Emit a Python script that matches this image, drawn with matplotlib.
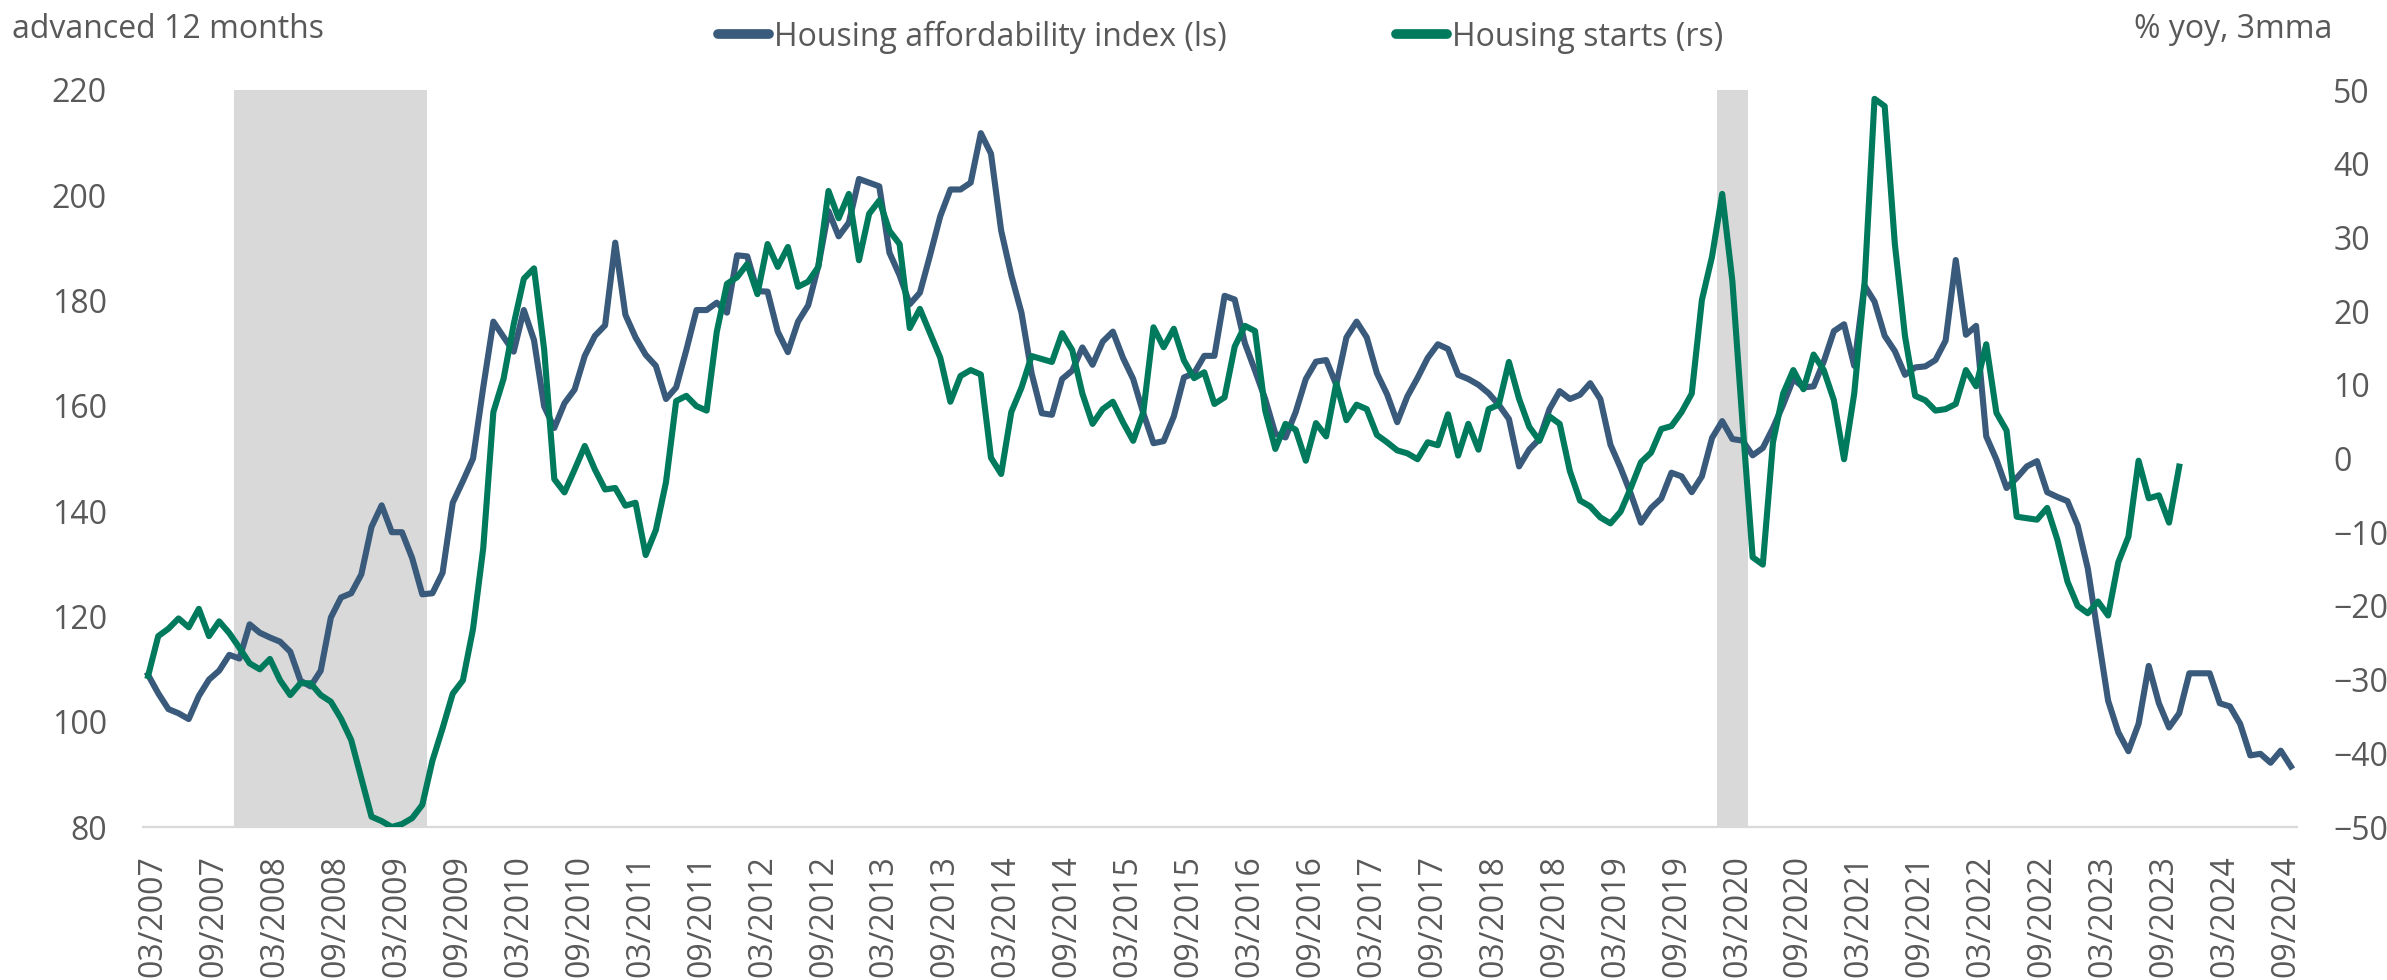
import matplotlib
matplotlib.use("Agg")
import matplotlib.pyplot as plt
from matplotlib.lines import Line2D

# ---------------- data (monthly, first point = 03/2007) ----------------
affordability = [
    108.9, 105.4, 102.4, 101.6, 100.5, 104.9, 108.0, 109.7, 112.7, 112.0,
    118.5, 116.9, 116.0, 115.2, 113.3, 107.8, 106.7, 109.7, 119.8, 123.6,
    124.4, 128.0, 137.0, 141.1, 136.0, 136.0, 131.1, 124.2, 124.4, 128.3,
    141.6, 145.7, 150.0, 163.5, 176.0, 173.1, 170.3, 178.2, 172.5, 159.9,
    155.8, 160.5, 163.1, 169.5, 173.3, 175.3, 191.0, 177.3, 173.0, 169.7,
    167.6, 161.3, 163.5, 170.6, 178.2, 178.2, 179.6, 177.7, 188.6, 188.4,
    181.8, 181.7, 174.1, 170.2, 176.0, 179.1, 186.6, 197.0, 192.2, 194.8,
    203.1, 202.4, 201.7, 189.1, 184.8, 179.3, 181.5, 188.6, 196.0, 201.1,
    201.1, 202.4, 211.8, 207.9, 193.3, 184.8, 177.7, 166.2, 158.6, 158.3,
    165.1, 166.7, 171.1, 167.8, 172.2, 174.1, 169.1, 165.1, 158.6, 152.9,
    153.3, 158.0, 165.4, 166.2, 169.5, 169.5, 180.9, 180.2, 171.9, 166.7,
    161.3, 154.7, 154.0, 158.8, 165.1, 168.4, 168.7, 164.0, 173.0, 176.0,
    173.0, 166.2, 162.2, 156.9, 161.8, 165.3, 169.1, 171.7, 170.8, 165.9,
    165.1, 164.0, 162.4, 160.2, 157.5, 148.5, 151.7, 153.7, 159.4, 162.8,
    161.3, 162.1, 164.3, 161.3, 152.6, 148.2, 143.3, 137.8, 140.6, 142.4,
    147.3, 146.6, 143.6, 146.6, 153.9, 157.1, 153.7, 153.4, 150.6, 152.0,
    155.8, 160.2, 165.1, 163.5, 163.7, 168.4, 174.2, 175.5, 167.6, 182.9,
    179.8, 173.3, 170.4, 165.9, 167.3, 167.5, 168.7, 172.4, 187.7, 173.5,
    175.2, 154.2, 149.8, 144.4, 146.3, 148.5, 149.5, 143.6, 142.7, 141.9,
    137.3, 129.1, 116.6, 104.0, 98.0, 94.4, 99.6, 110.6, 103.5, 98.9,
    101.6, 109.2, 109.2, 109.2, 103.5, 102.9, 99.6, 93.6, 93.9, 92.2,
    94.5, 91.5,
]

housing_starts = [
    -29.5, -24.1, -23.1, -21.7, -22.9, -20.4, -24.1, -22.1, -23.7, -25.7,
    -27.8, -28.6, -27.2, -30.1, -32.1, -30.5, -30.5, -32.1, -33.0, -35.3,
    -38.2, -43.4, -48.6, -49.2, -50.0, -49.6, -48.8, -47.0, -41.0, -36.6,
    -31.9, -30.1, -23.1, -12.2, 6.3, 10.8, 18.2, 24.4, 25.8, 14.8,
    -2.8, -4.6, -1.5, 1.7, -1.5, -4.2, -4.0, -6.4, -6.0, -13.1,
    -9.7, -3.2, 7.8, 8.5, 7.1, 6.5, 17.2, 23.7, 24.6, 26.4,
    22.3, 29.1, 26.0, 28.7, 23.3, 24.0, 26.0, 36.3, 32.6, 35.9,
    26.9, 33.2, 35.0, 30.9, 29.1, 17.7, 20.3, 17.0, 13.7, 7.7,
    11.2, 12.0, 11.4, 0.1, -2.1, 6.3, 9.6, 13.9, 13.5, 13.1,
    17.0, 14.7, 8.8, 4.7, 6.7, 7.7, 4.9, 2.4, 6.3, 17.8,
    15.1, 17.6, 13.3, 10.9, 11.7, 7.4, 8.3, 15.2, 18.0, 17.3,
    6.5, 1.3, 4.7, 3.9, -0.3, 4.8, 3.0, 10.2, 5.2, 7.3,
    6.7, 3.2, 2.2, 1.1, 0.7, -0.1, 2.2, 1.8, 6.0, 0.4,
    4.7, 1.2, 6.7, 7.3, 13.1, 8.1, 4.3, 2.4, 5.7, 4.7,
    -1.7, -5.7, -6.5, -8.0, -8.8, -7.2, -4.0, -0.5, 0.8, 4.0,
    4.4, 6.3, 8.8, 21.5, 27.4, 35.9, 24.1, 4.9, -13.4, -14.4,
    2.2, 8.8, 12.0, 9.4, 14.1, 12.0, 7.9, -0.1, 8.8, 23.3,
    48.8, 47.8, 29.1, 16.6, 8.5, 7.9, 6.5, 6.7, 7.4, 12.0,
    9.8, 15.5, 6.2, 3.8, -7.9, -8.1, -8.3, -6.7, -11.0, -16.7,
    -20.0, -21.0, -19.4, -21.3, -14.1, -10.6, -0.3, -5.4, -5.0, -8.7,
    -1.1,
]

tick_labels = [f"{m:02d}/{y}" for y in range(2007, 2025) for m in (3, 9)]
recessions = [(8.5, 27.5), (154.5, 157.5)]   # shaded periods (month index)

left_ticks = [80, 100, 120, 140, 160, 180, 200, 220]
right_ticks = [-50, -40, -30, -20, -10, 0, 10, 20, 30, 40, 50]

# ---------------- style ----------------
BLUE = "#395A7B"
GREEN = "#007A5C"
GREY_TXT = "#595959"
SHADE = "#D9D9D9"
FS = 23
plt.rcParams["font.family"] = ["Open Sans", "DejaVu Sans"]

fig = plt.figure(figsize=(23.87, 9.80), dpi=100)
W, H = 2387, 980
left_px, right_px, top_px, bot_px = 143, 2297, 90, 827
ax = fig.add_axes([left_px / W, 1 - bot_px / H, (right_px - left_px) / W, (bot_px - top_px) / H])
ax2 = ax.twinx()

x_aff = list(range(len(affordability)))
x_st = list(range(len(housing_starts)))

for a, b in recessions:
    ax.axvspan(a, b, color=SHADE, lw=0, zorder=0)

l1, = ax.plot(x_aff, affordability, color=BLUE, lw=4.4, solid_joinstyle="round", zorder=3,
              label="Housing affordability index (ls)")
l2, = ax2.plot(x_st, housing_starts, color=GREEN, lw=4.4, solid_joinstyle="round", zorder=3,
               label="Housing starts (rs)")

ax.set_xlim(-0.5, 211.6)
ax.set_ylim(80, 220)
ax2.set_ylim(-50, 50)
ax.set_yticks(left_ticks)
ax2.set_yticks(right_ticks)

tick_pos = [0.5 + 6 * k for k in range(len(tick_labels))]
ax.set_xticks(tick_pos)
ax.set_xticklabels(tick_labels, rotation=90, fontsize=FS, color=GREY_TXT)

for a in (ax, ax2):
    for s in a.spines.values():
        s.set_visible(False)
    a.tick_params(length=0)
ax.spines["bottom"].set_visible(True)
ax.spines["bottom"].set_color(SHADE)
ax.spines["bottom"].set_linewidth(1.6)

ax.tick_params(axis="y", labelsize=FS, labelcolor=GREY_TXT, pad=26)
ax2.tick_params(axis="y", labelsize=FS, labelcolor=GREY_TXT, pad=26)
ax.tick_params(axis="x", pad=20)
for lab in ax2.get_yticklabels():
    lab.set_horizontalalignment("left")

fig.text(12 / W, 1 - 30 / H, "advanced 12 months", fontsize=FS, color=GREY_TXT,
         ha="left", va="center")
fig.text(2332 / W, 1 - 30 / H, "% yoy, 3mma", fontsize=FS, color=GREY_TXT,
         ha="right", va="center")

h1 = Line2D([], [], color=BLUE, lw=7, solid_capstyle="round")
h2 = Line2D([], [], color=GREEN, lw=7, solid_capstyle="round")
leg = fig.legend([h1, h2], [l1.get_label(), l2.get_label()], loc="center left",
                 bbox_to_anchor=(718 / W, 1 - 37 / H), ncol=2, frameon=False,
                 fontsize=FS, handlelength=1.6, handletextpad=0.15, columnspacing=5.3,
                 borderpad=0, borderaxespad=0)
for t in leg.get_texts():
    t.set_color(GREY_TXT)

fig.savefig("out.png", dpi=100)
